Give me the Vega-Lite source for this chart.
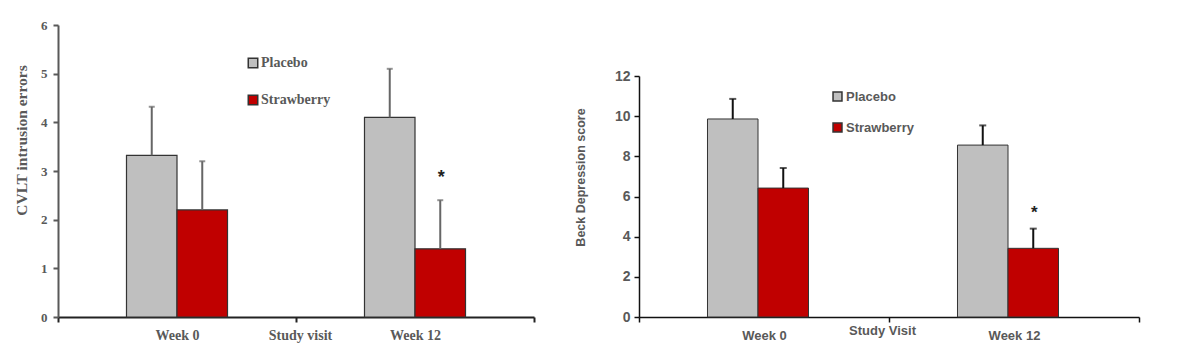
{
  "$schema": "https://vega.github.io/schema/vega-lite/v6.json",
  "background": "white",
  "padding": {"left": 14, "top": 19, "right": 5, "bottom": 5},
  "config": {"view": {"stroke": null}, "axis": {"grid": false}},
  "spacing": 39,
  "hconcat": [
    {
      "width": 476,
      "height": 292,
      "data": {"values": [
        {"week": "Week 0", "group": "Placebo", "mean": 3.32, "hi": 4.32, "star": ""},
        {"week": "Week 0", "group": "Strawberry", "mean": 2.2, "hi": 3.2, "star": ""},
        {"week": "Week 12", "group": "Placebo", "mean": 4.1, "hi": 5.1, "star": ""},
        {"week": "Week 12", "group": "Strawberry", "mean": 1.4, "hi": 2.4, "star": "*"}
      ]},
      "encoding": {
        "x": {"field": "week", "type": "nominal", "sort": ["Week 0", "Week 12"],
          "scale": {"paddingInner": 0, "paddingOuter": 0},
          "title": "Study visit",
          "axis": {"labelAngle": 0, "tickBand": "extent", "domainColor": "#222", "domainWidth": 2, "tickColor": "#222", "tickWidth": 2, "tickSize": 5,
            "labelFont": "Liberation Serif", "labelFontWeight": "bold", "labelFontSize": 14, "labelColor": "#595959", "labelPadding": 6,
            "titleFont": "Liberation Serif", "titleFontWeight": "bold", "titleFontSize": 14, "titleColor": "#595959", "titleY": 11, "titleX": 242}},
        "xOffset": {"field": "group", "type": "nominal", "scale": {"domain": ["_l", "Placebo", "Strawberry", "_r"], "paddingInner": 0, "paddingOuter": 0.356}},
        "y": {"field": "mean", "type": "quantitative", "scale": {"domain": [0, 6], "nice": false},
          "title": "CVLT intrusion errors",
          "axis": {"values": [0, 1, 2, 3, 4, 5, 6], "domainColor": "#595959", "domainWidth": 2, "tickColor": "#595959", "tickWidth": 2, "tickSize": 5,
            "labelFont": "Liberation Serif", "labelFontWeight": "bold", "labelFontSize": 13, "labelColor": "#595959", "labelPadding": 6,
            "titleFont": "Liberation Serif", "titleFontWeight": "bold", "titleFontSize": 15.5, "titleColor": "#595959", "titlePadding": 11, "titleY": 115}}
      },
      "layer": [
        {"mark": {"type": "bar", "stroke": "#333", "strokeWidth": 1.2},
          "encoding": {"color": {"field": "group", "type": "nominal", "sort": ["Placebo", "Strawberry"],
            "scale": {"domain": ["Placebo", "Strawberry"], "range": ["#bfbfbf", "#c00000"]},
            "legend": {"title": null, "orient": "none", "legendX": 188, "legendY": 31, "symbolType": "square", "symbolSize": 90,
              "symbolStrokeColor": "#333", "symbolStrokeWidth": 1.5, "rowPadding": 21, "labelFont": "Liberation Serif", "labelFontWeight": "bold",
              "labelFontSize": 14, "labelColor": "#595959", "labelOffset": 1}}}},
        {"mark": {"type": "rule", "color": "#666", "strokeWidth": 2}, "encoding": {"y2": {"field": "hi"}}},
        {"mark": {"type": "tick", "orient": "horizontal", "color": "#666", "size": 6, "thickness": 2}, "encoding": {"y": {"field": "hi", "type": "quantitative"}}},
        {"transform": [{"filter": "datum.star != ''"}],
          "mark": {"type": "text", "dy": -22, "dx": 1, "fontSize": 18, "fontWeight": "bold", "color": "#222", "baseline": "middle"},
          "encoding": {"y": {"field": "hi", "type": "quantitative"}, "text": {"field": "star"}}}
      ]
    },
    {
      "width": 500,
      "height": 292,
      "data": {"values": [
        {"week": "Week 0", "group": "Placebo", "mean": 9.86, "hi": 10.86, "star": ""},
        {"week": "Week 0", "group": "Strawberry", "mean": 6.42, "hi": 7.42, "star": ""},
        {"week": "Week 12", "group": "Placebo", "mean": 8.56, "hi": 9.54, "star": ""},
        {"week": "Week 12", "group": "Strawberry", "mean": 3.42, "hi": 4.4, "star": "*"}
      ]},
      "encoding": {
        "x": {"field": "week", "type": "nominal", "sort": ["Week 0", "Week 12"],
          "scale": {"paddingInner": 0, "paddingOuter": 0},
          "title": "Study Visit",
          "axis": {"labelAngle": 0, "tickBand": "extent", "domainColor": "#111", "domainWidth": 1.5, "tickColor": "#111", "tickWidth": 1.5, "tickSize": 5,
            "labelFont": "Liberation Sans", "labelFontWeight": "bold", "labelFontSize": 13, "labelColor": "#595959", "labelPadding": 7,
            "titleFont": "Liberation Sans", "titleFontWeight": "bold", "titleFontSize": 13, "titleColor": "#595959", "titleY": 7, "titleX": 243}},
        "xOffset": {"field": "group", "type": "nominal", "scale": {"domain": ["_l", "Placebo", "Strawberry", "_r"], "paddingInner": 0, "paddingOuter": 0.427}},
        "y": {"field": "mean", "type": "quantitative", "scale": {"domain": [0, 12], "nice": false, "range": [292, 51]},
          "title": "Beck Depression score",
          "axis": {"values": [0, 2, 4, 6, 8, 10, 12], "domainColor": "#111", "domainWidth": 1.5, "tickColor": "#111", "tickWidth": 1.5, "tickSize": 5,
            "labelFont": "Liberation Sans", "labelFontWeight": "bold", "labelFontSize": 14, "labelColor": "#595959", "labelPadding": 4,
            "titleFont": "Liberation Sans", "titleFontWeight": "bold", "titleFontSize": 12.5, "titleColor": "#595959", "titlePadding": 27, "titleY": 152}}
      },
      "layer": [
        {"mark": {"type": "bar", "stroke": "#333", "strokeWidth": 1},
          "encoding": {"color": {"field": "group", "type": "nominal", "sort": ["Placebo", "Strawberry"],
            "scale": {"domain": ["Placebo", "Strawberry"], "range": ["#bfbfbf", "#c00000"]},
            "legend": {"title": null, "orient": "none", "legendX": 192, "legendY": 65, "symbolType": "square", "symbolSize": 80,
              "symbolStrokeColor": "#333", "symbolStrokeWidth": 1.5, "rowPadding": 16, "labelFont": "Liberation Sans", "labelFontWeight": "bold",
              "labelFontSize": 13, "labelColor": "#595959", "labelOffset": 2}}}},
        {"mark": {"type": "rule", "color": "#111", "strokeWidth": 2}, "encoding": {"y2": {"field": "hi"}}},
        {"mark": {"type": "tick", "orient": "horizontal", "color": "#111", "size": 7, "thickness": 2}, "encoding": {"y": {"field": "hi", "type": "quantitative"}}},
        {"transform": [{"filter": "datum.star != ''"}],
          "mark": {"type": "text", "dy": -16, "dx": 1, "fontSize": 17, "fontWeight": "bold", "color": "#222", "baseline": "middle"},
          "encoding": {"y": {"field": "hi", "type": "quantitative"}, "text": {"field": "star"}}}
      ]
    }
  ],
  "resolve": {"scale": {"color": "independent"}, "legend": {"color": "independent"}}
}
